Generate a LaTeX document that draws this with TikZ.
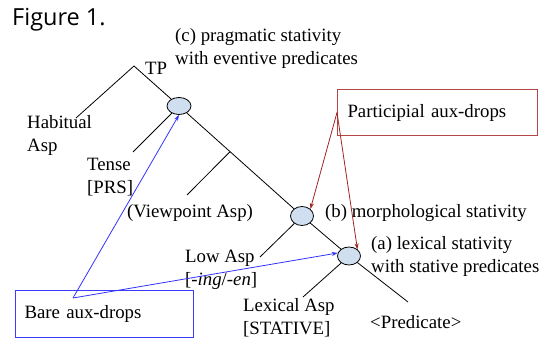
\documentclass[tikz,border=0pt]{standalone}
\usepackage{fontspec}
\setmainfont{Liberation Serif}
\newfontfamily\titlefont{Open Sans}
\usetikzlibrary{shapes.geometric,arrows.meta,calc}
\definecolor{nodeblue}{RGB}{208,223,239}
\definecolor{boxred}{RGB}{180,70,72}
\definecolor{arrred}{RGB}{160,35,35}
\definecolor{boxblue}{RGB}{60,60,255}
\definecolor{arrblue}{RGB}{50,50,255}
\begin{document}
\begin{tikzpicture}[x=1pt,y=-1pt,
  lbl/.style={font=\fontsize{18.8}{23}\selectfont, inner sep=0pt, align=left, anchor=west},
  br/.style={line width=0.8pt},
  el/.style={ellipse, draw, fill=nodeblue, minimum width=24pt, minimum height=17pt, inner sep=0pt, line width=0.8pt},
  redarr/.style={draw=arrred, line width=0.8pt, -{Stealth[length=6pt,width=4pt]}},
  bluearr/.style={draw=arrblue, line width=0.8pt, -{Stealth[length=6pt,width=4pt]}},
  abox/.style={line width=1pt, anchor=north west, align=left, font=\fontsize{18.8}{23}\selectfont}
]
\useasboundingbox (0,0) rectangle (547,347);

\node[font=\titlefont\fontsize{23.5}{28}\selectfont, anchor=west, inner sep=0pt] (title) at (12,20) {Figure 1.};

% tree nodes
\coordinate (tp) at (134,66);
\node[el] (c) at (179,106) {};
\node[el, minimum width=23pt, minimum height=19pt] (b) at (302,216) {};
\node[el, minimum width=23pt, minimum height=18pt] (a) at (349,256) {};

\coordinate (hab) at (76,118);
\coordinate (tense) at (133,152);
\coordinate (vpj) at ($(c.center)!0.415!(b.center)$);
\coordinate (vpe) at (187,195);
\coordinate (lowe) at (260,257);
\coordinate (lexe) at (303,297);
\coordinate (prede) at (408,302);

\draw[br] (tp) -- (hab);
\draw[br] (tp) -- (c);
\draw[br] (c) -- (tense);
\draw[br] (c) -- (b);
\draw[br] (vpj) -- (vpe);
\draw[br] (b) -- (lowe);
\draw[br] (b) -- (a);
\draw[br] (a) -- (lexe);
\draw[br] (a) -- (prede);

% labels
\node[lbl] (tplbl) at (145,68) {TP};
\node[lbl] (clbl) at (175,48) {(c) pragmatic stativity\\with eventive predicates};
\node[lbl] (hablbl) at (27,135) {Habitual\\Asp};
\node[lbl] (tenselbl) at (87,177) {Tense\\{[}PRS{]}};
\node[lbl] (vplbl) at (127,213) {(Viewpoint Asp)};
\node[lbl] (lowlbl) at (185,270) {Low Asp\\{[}\textit{-ing}/\textit{-en}{]}};
\node[lbl] (lexlbl) at (243,318) {Lexical Asp\\{[}STATIVE{]}};
\node[lbl] (predlbl) at (370,322) {<Predicate>};
\node[lbl] (blbl) at (325,213) {(b) morphological stativity};
\node[lbl] (albl) at (371,256) {(a) lexical stativity\\with stative predicates};

% boxes
\node[abox, draw=boxred, minimum width=200pt, minimum height=46pt, text width=180pt, inner xsep=10pt] (part) at (337,89) {Participial aux-drops};
\node[abox, draw=boxblue, minimum width=178pt, minimum height=47pt, text width=160pt, inner xsep=9pt] (bare) at (15,290) {Bare aux-drops};

% arrows
\draw[redarr] (part.west) -- (b.north east);
\draw[redarr] (part.west) -- (a.north east);
\coordinate (bs) at (73,298);
\draw[bluearr] (bs) -- (c.south);
\draw[bluearr] (bs) -- (a.165);
\end{tikzpicture}
\end{document}
